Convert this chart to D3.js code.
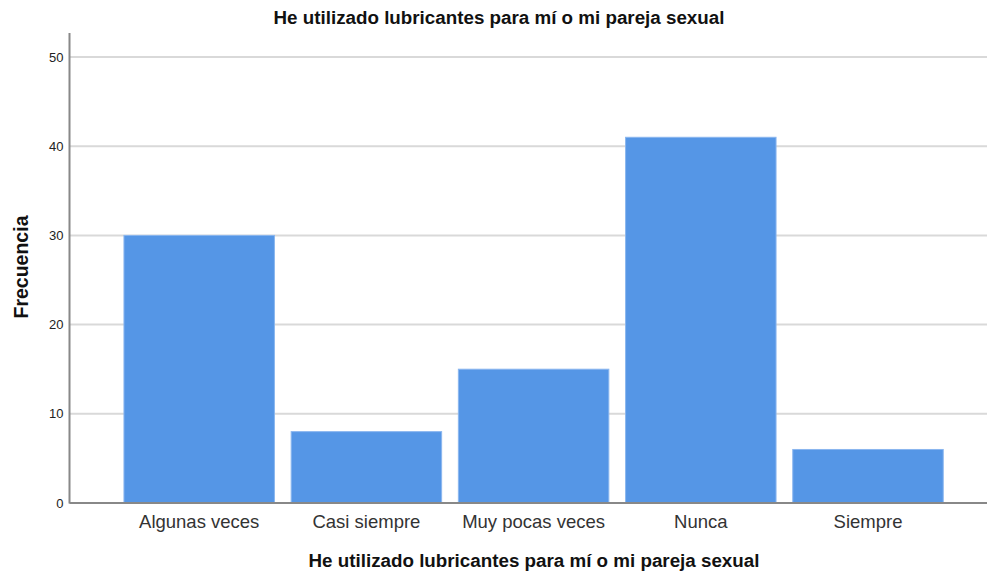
<!DOCTYPE html>
<html><head><meta charset="utf-8">
<script src="https://cdn.jsdelivr.net/npm/d3@7"></script>
<style>body{margin:0;background:#fff}svg{display:block;font-family:"Liberation Sans",Arial,sans-serif}</style>
</head><body><svg id="c" width="987" height="571"></svg>
<script>
const categories = ["Algunas veces","Casi siempre","Muy pocas veces","Nunca","Siempre"];
const values = [30, 8, 15, 41, 6];
const yTicks = [0,10,20,30,40,50];
const title = "He utilizado lubricantes para mí o mi pareja sexual";
const xTitle = "He utilizado lubricantes para mí o mi pareja sexual";
const yTitle = "Frecuencia";

(function(){
const svg = d3.select("#c");
const pLeft = 69.5, pRight = 987, pTop = 33, pBottom = 503;
const y = d3.scaleLinear().domain([0,50]).range([pBottom, 57]);
const x = d3.scaleBand().domain(categories).range([115.6, 951.6]).paddingInner(0.1).paddingOuter(0.05);

svg.append("g").selectAll("line").data(yTicks.filter(d=>d>0)).join("line")
  .attr("x1", pLeft).attr("x2", pRight).attr("y1", d=>y(d)).attr("y2", d=>y(d))
  .attr("stroke","#d9d9d9").attr("stroke-width",2);

svg.append("g").selectAll("rect").data(values).join("rect")
  .attr("x",(d,i)=>x(categories[i])).attr("width",x.bandwidth())
  .attr("y",d=>y(d)).attr("height",d=>pBottom-y(d))
  .attr("fill","#5596e6").attr("stroke","#8ab6ef").attr("stroke-width",1);

const ya = svg.append("g").attr("transform",`translate(${pLeft},0)`)
  .call(d3.axisLeft(y).tickValues(yTicks).tickSize(0).tickPadding(6));
ya.select(".domain").remove();
ya.selectAll("text").attr("font-size",13).attr("fill","#222").style("font-family","Liberation Sans, Arial");
svg.append("line").attr("x1",pLeft).attr("x2",pLeft).attr("y1",pTop).attr("y2",pBottom+0.5)
  .attr("stroke","#888").attr("stroke-width",2);

const xa = svg.append("g").attr("transform",`translate(0,${pBottom})`)
  .call(d3.axisBottom(x).tickSize(0).tickPadding(12));
xa.select(".domain").remove();
xa.selectAll("text").attr("font-size",18.5).attr("fill","#333").style("font-family","Liberation Sans, Arial");
svg.append("line").attr("x1",pLeft).attr("x2",pRight).attr("y1",pBottom).attr("y2",pBottom)
  .attr("stroke","#888").attr("stroke-width",2);

svg.append("text").attr("x",499).attr("y",24).attr("text-anchor","middle")
  .attr("font-size",18.8).attr("font-weight","bold").attr("fill","#111").text(title);
svg.append("text").attr("x",534).attr("y",567).attr("text-anchor","middle")
  .attr("font-size",18.8).attr("font-weight","bold").attr("fill","#111").text(xTitle);
svg.append("text").attr("transform","translate(28,267) rotate(-90)").attr("text-anchor","middle")
  .attr("font-size",19.5).attr("font-weight","bold").attr("fill","#111").text(yTitle);
})();
</script></body></html>
